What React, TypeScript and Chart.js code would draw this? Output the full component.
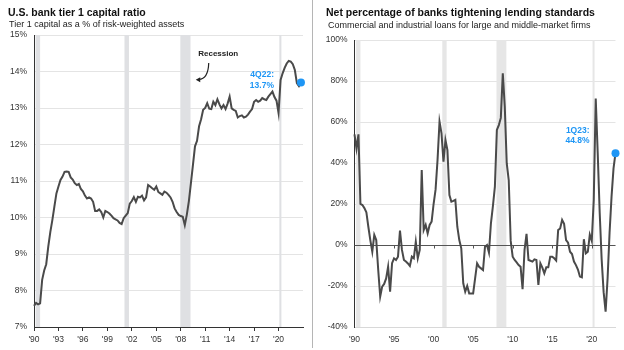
import React, { useEffect, useRef } from "react";
import { Chart, registerables } from "chart.js";

Chart.register(...registerables);

// ---------- DATA ----------
const START_YEAR = 1990; // quarterly series, first quarter of 1990

// U.S. bank tier 1 capital ratio (%), 1Q90 .. 4Q22
const capitalRatio = [
  7.58, 7.66, 7.62, 7.65,
  8.29, 8.55, 8.72, 9.2,
  9.6, 9.93, 10.3, 10.66,
  10.85, 11.03, 11.12, 11.25,
  11.26, 11.25, 11.1, 11.04,
  10.94, 10.89, 10.92, 10.78,
  10.72, 10.6, 10.52, 10.55,
  10.52, 10.43, 10.18, 10.18,
  10.22, 10.15, 10.0, 10.18,
  10.15, 10.11, 10.05, 9.98,
  9.95, 9.92, 9.85, 9.82,
  9.98, 10.05, 10.12, 10.38,
  10.45, 10.56, 10.43, 10.57,
  10.55, 10.6, 10.47, 10.55,
  10.89, 10.85, 10.8, 10.76,
  10.85, 10.7, 10.66, 10.62,
  10.71, 10.68, 10.62, 10.55,
  10.43, 10.25, 10.15, 10.07,
  10.04, 10.02, 9.79, 10.08,
  10.45, 10.94, 11.44, 11.95,
  12.1, 12.5, 12.69, 12.95,
  13.0, 13.13, 12.98, 12.97,
  13.17, 13.08, 13.24, 13.1,
  12.99, 13.08, 12.97, 13.12,
  13.31, 12.99, 12.95, 12.92,
  12.74, 12.78, 12.8, 12.74,
  12.76, 12.82, 12.9, 12.97,
  13.17, 13.22, 13.17, 13.2,
  13.27, 13.24, 13.22, 13.31,
  13.38, 13.45, 13.3, 13.2,
  12.86, 13.77, 13.95, 14.1,
  14.22, 14.29, 14.27, 14.2,
  14.04, 13.68, 13.6, 13.7,
];

// Net % of banks tightening C&I lending standards, 1Q90 .. 1Q23
const tighteningPct = [
  54, 47, 54, 20,
  19.5, 18, 16, 8.9,
  2.4, -3.3, 4.9, 2.4,
  -12.2, -25.2, -20.3, -19,
  -16.3, -10.6, -22.8, -8.9,
  -6.5, -7.3, -5.7, 7,
  -2.4, -7.3, -8.1, -9,
  -10.2, -5.7, -6.5, 1.6,
  -6.5, -2.4, 36.6, 7.3,
  9.8, 5.7, 9.8, 11.4,
  20, 27, 41.5, 60.2,
  54.5, 40.6, 51.2, 46.3,
  24.4, 21.1, 21.5, 22,
  8.9, 2.4, -1.6, -18.7,
  -22.8, -20, -23.6, -23.6,
  -23.6, -16.3, -8.9, -10.6,
  -11.4, -12.2, -0.8, 0,
  -3.7, 10.6, 19, 28.5,
  56.1, 58.5, 62, 83.7,
  67.5, 39.8, 31.7, 2,
  -5.7, -7.3, -8.5, -9.8,
  -10.6, -21.6, -2.4, 5.4,
  -7.3, -7.7, -8.1, -7,
  -7.3, -19.5, -8.9, -11,
  -13.8, -10.9, -10.9, -5.7,
  -5.7, -6.5, -7.6, 7.3,
  8.1, 12.2, 10.3, 2.4,
  1.1, -3.3, -4.4, -8.1,
  -9.8, -12, -15.4, -15.8,
  2.8, -4.1, -3.3, 5,
  2, 22, 71.5, 45,
  16, -7, -23, -32.5,
  -16.3, 6, 23.6, 37.4,
  44.8,
];

const recessions = [
  [1990.2, 1990.75],
  [2001.1, 2001.65],
  [2007.95, 2009.2],
  [2020.1, 2020.35],
];

const leftTickYears = [1990, 1993, 1996, 1999, 2002, 2005, 2008, 2011, 2014, 2017, 2020];
const leftTickLabels = ["'90", "'93", "'96", "'99", "'02", "'05", "'08", "'11", "'14", "'17", "'20"];
const rightTickYears = [1990, 1995, 2000, 2005, 2010, 2015, 2020];
const rightTickLabels = ["'90", "'95", "'00", "'05", "'10", "'15", "'20"];

const leftLastLabel = ["4Q22:", "13.7%"];
const rightLastLabel = ["1Q23:", "44.8%"];
const recessionText = "Recession";

// ---------- STYLE ----------
const FONT = "'Liberation Sans', Arial, Helvetica, sans-serif";
const LINE_COLOR = "#4a4a4a";
const BLUE = "#1e96f5";
const GRID = "#e4e4e4";
const AXIS = "#333333";
const TICK_TEXT = "#333333";

const toPoints = (vals: number[]) => vals.map((v, i) => ({ x: START_YEAR + i / 4, y: v }));

const overlayPlugin = {
  id: "overlay",
  beforeDatasetsDraw(chart: any, _args: any, opts: any) {
    const { ctx, chartArea: ca } = chart;
    const x = chart.scales.x;
    const y = chart.scales.y;
    ctx.save();
    ctx.fillStyle = opts.bandColor;
    for (const [a, b] of recessions) {
      const x0 = x.getPixelForValue(a);
      const x1 = x.getPixelForValue(b);
      ctx.fillRect(x0, ca.top, x1 - x0, ca.bottom - ca.top);
    }
    if (opts.zeroLine) {
      const yz = Math.round(y.getPixelForValue(0)) + 0.5;
      ctx.strokeStyle = "#555555";
      ctx.lineWidth = 1;
      ctx.beginPath();
      ctx.moveTo(ca.left, yz);
      ctx.lineTo(ca.right, yz);
      for (const t of opts.zeroTicks) {
        if (t === opts.zeroTicks[0]) continue;
        const px = Math.round(x.getPixelForValue(t)) + 0.5;
        ctx.moveTo(px, yz);
        ctx.lineTo(px, yz + 3);
      }
      ctx.stroke();
    }
    ctx.restore();
  },
  afterDatasetsDraw(chart: any, _args: any, opts: any) {
    const { ctx } = chart;
    const meta = chart.getDatasetMeta(0);
    const last = meta.data[meta.data.length - 1];
    ctx.save();
    ctx.font = `bold 8.5px ${FONT}`;
    ctx.fillStyle = BLUE;
    ctx.textAlign = "right";
    ctx.textBaseline = "middle";
    const [dx, dy, lh] = opts.labelOffset;
    ctx.fillText(opts.lastLabel[0], last.x + dx, last.y + dy);
    ctx.fillText(opts.lastLabel[1], last.x + dx, last.y + dy + lh);
    if (opts.recession) {
      const x = chart.scales.x;
      const y = chart.scales.y;
      const r = opts.recession;
      const tx = x.getPixelForValue(r.x);
      const ty = y.getPixelForValue(r.y);
      ctx.fillStyle = "#222";
      ctx.textAlign = "center";
      ctx.font = `bold 8px ${FONT}`;
      ctx.fillText(recessionText, tx, ty);
      // curved arrow
      const sx = tx - 9.5;
      const sy = ty + 9;
      ctx.strokeStyle = "#222";
      ctx.lineWidth = 1.2;
      ctx.beginPath();
      ctx.moveTo(sx, sy);
      ctx.quadraticCurveTo(sx - 0.5, sy + 16, sx - 10, sy + 16.5);
      ctx.stroke();
      ctx.beginPath();
      ctx.moveTo(sx - 13, sy + 16.8);
      ctx.lineTo(sx - 8.5, sy + 14.2);
      ctx.lineTo(sx - 8.5, sy + 19.2);
      ctx.closePath();
      ctx.fillStyle = "#222";
      ctx.fill();
    }
    ctx.restore();
  },
};

function makeConfig(p: {
  values: number[];
  yMin: number;
  yMax: number;
  yStep: number;
  tickYears: number[];
  tickLabels: string[];
  yWidth: number;
  padTop: number;
  padRight: number;
  bottomBorder: string;
  xTicksMarks: boolean;
  bandColor: string;
  zeroLine: boolean;
  lastLabel: string[];
  labelOffset: number[];
  recession: any;
}) {
  const pts = toPoints(p.values);
  const lastIdx = pts.length - 1;
  return {
    type: "line",
    data: {
      datasets: [
        {
          data: pts,
          borderColor: LINE_COLOR,
          borderWidth: 2,
          tension: 0,
          clip: false,
          pointRadius: (c: any) => (c.dataIndex === lastIdx ? 4 : 0),
          pointBackgroundColor: BLUE,
          pointBorderColor: BLUE,
          pointBorderWidth: 0,
          pointHoverRadius: 0,
        },
      ],
    },
    options: {
      responsive: false,
      animation: false,
      events: [],
      layout: { padding: { top: p.padTop, right: p.padRight, left: 0, bottom: 0 } },
      plugins: {
        legend: { display: false },
        tooltip: { enabled: false },
        overlay: {
          bandColor: p.bandColor,
          zeroLine: p.zeroLine,
          zeroTicks: p.tickYears,
          lastLabel: p.lastLabel,
          labelOffset: p.labelOffset,
          recession: p.recession,
        },
      },
      scales: {
        x: {
          type: "linear",
          min: 1990,
          max: 2023,
          afterBuildTicks: (s: any) => {
            s.ticks = p.tickYears.map((v) => ({ value: v }));
          },
          afterFit: (s: any) => {
            s.height = 23;
          },
          ticks: {
            autoSkip: false,
            maxRotation: 0,
            padding: p.xTicksMarks ? 4 : 8,
            color: TICK_TEXT,
            font: { family: FONT, size: 8.5 },
            callback: (v: number) => p.tickLabels[p.tickYears.indexOf(v)] ?? "",
          },
          grid: {
            drawOnChartArea: false,
            drawTicks: p.xTicksMarks,
            tickLength: 4,
            color: AXIS,
          },
          border: { display: true, color: p.bottomBorder, width: 1 },
        },
        y: {
          type: "linear",
          min: p.yMin,
          max: p.yMax,
          afterFit: (s: any) => {
            s.width = p.yWidth;
          },
          ticks: {
            stepSize: p.yStep,
            padding: 7,
            color: TICK_TEXT,
            font: { family: FONT, size: 8.5 },
            callback: (v: number) => `${v}%`,
          },
          grid: { color: GRID, drawTicks: false, lineWidth: 1 },
          border: { display: true, color: AXIS, width: 1 },
        },
      },
    },
    plugins: [overlayPlugin],
  };
}

export default function App() {
  const leftRef = useRef<HTMLCanvasElement | null>(null);
  const rightRef = useRef<HTMLCanvasElement | null>(null);

  useEffect(() => {
    const left = new Chart(
      leftRef.current as HTMLCanvasElement,
      makeConfig({
        values: capitalRatio,
        yMin: 7,
        yMax: 15,
        yStep: 1,
        tickYears: leftTickYears,
        tickLabels: leftTickLabels,
        yWidth: 34,
        padTop: 35,
        padRight: 9,
        bottomBorder: AXIS,
        xTicksMarks: true,
        bandColor: "#dfe0e3",
        zeroLine: false,
        lastLabel: leftLastLabel,
        labelOffset: [-27, -8, 11],
        recession: { x: 2012.6, y: 14.48 },
      }) as any
    );
    const right = new Chart(
      rightRef.current as HTMLCanvasElement,
      makeConfig({
        values: tighteningPct,
        yMin: -40,
        yMax: 100,
        yStep: 20,
        tickYears: rightTickYears,
        tickLabels: rightTickLabels,
        yWidth: 42.5,
        padTop: 40,
        padRight: 8.5,
        bottomBorder: "#d8d8d8",
        xTicksMarks: false,
        bandColor: "#e6e6e6",
        zeroLine: true,
        lastLabel: rightLastLabel,
        labelOffset: [-26, -22.5, 9.5],
        recession: null,
      }) as any
    );
    return () => {
      left.destroy();
      right.destroy();
    };
  }, []);

  const titleStyle: React.CSSProperties = {
    position: "absolute",
    fontFamily: FONT,
    fontWeight: "bold",
    fontSize: "10.5px",
    lineHeight: "12px",
    color: "#111",
    whiteSpace: "nowrap",
  };
  const subStyle: React.CSSProperties = {
    position: "absolute",
    fontFamily: FONT,
    fontSize: "9px",
    lineHeight: "10px",
    color: "#222",
    whiteSpace: "nowrap",
  };

  return (
    <div
      style={{
        position: "absolute",
        left: 0,
        top: 0,
        width: 624,
        height: 350,
        background: "#fff",
        overflow: "hidden",
      }}
    >
      <canvas
        ref={leftRef}
        width={312}
        height={350}
        style={{ position: "absolute", left: 0, top: 0, width: 312, height: 350 }}
      />
      <canvas
        ref={rightRef}
        width={312}
        height={350}
        style={{ position: "absolute", left: 312, top: 0, width: 312, height: 350 }}
      />
      <div style={{ position: "absolute", left: 312, top: 0, width: 1, height: 348, background: "#b5b5b5" }} />
      <div style={{ ...titleStyle, left: 8, top: 6 }}>U.S. bank tier 1 capital ratio</div>
      <div style={{ ...subStyle, left: 9, top: 19 }}>Tier 1 capital as a % of risk-weighted assets</div>
      <div style={{ ...titleStyle, left: 326, top: 6 }}>Net percentage of banks tightening lending standards</div>
      <div style={{ ...subStyle, left: 328, top: 19.5 }}>
        Commercial and industrial loans for large and middle-market firms
      </div>
    </div>
  );
}
